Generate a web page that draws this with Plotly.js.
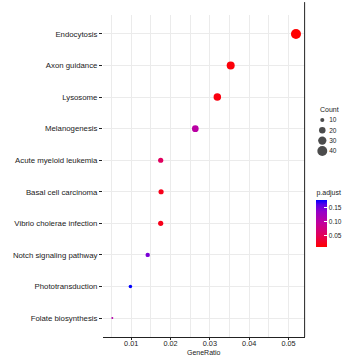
<!DOCTYPE html>
<html>
<head>
<meta charset="utf-8">
<script src="https://cdn.plot.ly/plotly-3.0.1.min.js"></script>
<style>html,body{margin:0;padding:0;background:#fff;}#chart{width:356px;height:356px;}</style>
</head>
<body>
<div id="chart"></div>
<script>
// ---- data (top to bottom) ----
var categories = ["Endocytosis", "Axon guidance", "Lysosome", "Melanogenesis",
  "Acute myeloid leukemia", "Basal cell carcinoma", "Vibrio cholerae infection",
  "Notch signaling pathway", "Phototransduction", "Folate biosynthesis"];
var geneRatio = [0.0519, 0.0353, 0.0319, 0.0263, 0.0175, 0.0176, 0.0175, 0.0142, 0.0098, 0.0052];
var counts = [41, 28, 25, 21, 14, 14, 14, 11, 8, 4];
var pAdjust = [0.008, 0.012, 0.015, 0.100, 0.053, 0.020, 0.020, 0.145, 0.175, 0.105];
var sizeLegendCounts = [10, 20, 30, 40];
var xTickVals = [0.01, 0.02, 0.03, 0.04, 0.05];
var xTickText = ["0.01", "0.02", "0.03", "0.04", "0.05"];
var cbTickVals = [0.05, 0.10, 0.15];
var cbTickText = ["0.05", "0.10", "0.15"];

// area-style size scale (diameter in px)
function sz(c) { return 1.82 * Math.sqrt(c) - 1.64; }

var FONT = "Liberation Sans, Arial, sans-serif";
var TXT = "#1a1a1a";
var GRID = "#ebebeb";

var colorscale = [[0, "#ff0000"], [0.25, "#e2005a"], [0.5, "#c3009a"], [0.75, "#9600c8"], [0.9, "#5a00e6"], [1, "#0000ff"]];

var main = {
  type: "scatter", mode: "markers",
  x: geneRatio, y: categories,
  xaxis: "x", yaxis: "y",
  showlegend: false, hoverinfo: "x+y",
  marker: {
    size: counts.map(sz), sizemode: "diameter",
    color: pAdjust, colorscale: colorscale, cmin: 0.008, cmax: 0.175,
    line: {width: 0}, opacity: 1,
    colorbar: {
      x: 0.893, xanchor: "left", xpad: 0,
      y: 0.372, yanchor: "middle", ypad: 0,
      len: 60, lenmode: "pixels", thickness: 11, thicknessmode: "pixels",
      outlinewidth: 0,
      tickmode: "array", tickvals: cbTickVals, ticktext: cbTickText,
      ticks: "inside", ticklen: 3, tickcolor: "#ffffff", tickwidth: 1,
      tickfont: {family: FONT, size: 6.5, color: TXT},
      title: {text: "p.adjust", side: "top", font: {family: FONT, size: 7, color: TXT}}
    }
  }
};

var sizeLegend = {
  type: "scatter", mode: "markers",
  x: sizeLegendCounts.map(function(){ return 1; }), y: sizeLegendCounts,
  xaxis: "x2", yaxis: "y2", showlegend: false, hoverinfo: "skip",
  marker: {size: sizeLegendCounts.map(sz), color: "#000000", line: {width: 0}}
};

var layout = {
  width: 356, height: 356,
  margin: {l: 103, r: 10, t: 14.7, b: 19.3, pad: 0},
  paper_bgcolor: "#ffffff", plot_bgcolor: "#ffffff",
  font: {family: FONT, size: 7, color: TXT},
  xaxis: {
    domain: [0, 0.8436], range: [0.00283, 0.0541], autorange: false,
    tickmode: "array", tickvals: xTickVals, ticktext: xTickText,
    showgrid: true, gridcolor: GRID, gridwidth: 1,
    minor: {tickmode: "array", tickvals: [0.005, 0.015, 0.025, 0.035, 0.045], showgrid: true, gridcolor: GRID, gridwidth: 1},
    zeroline: false, showline: true, linecolor: "#222", linewidth: 1,
    ticks: "outside", ticklen: 2, tickcolor: "#222",
    ticklabelstandoff: -3,
    tickfont: {family: FONT, size: 7.3, color: TXT},
    automargin: false, fixedrange: true
  },
  yaxis: {
    type: "category", categoryorder: "array", categoryarray: categories,
    range: [9.6, -0.6], autorange: false,
    showgrid: true, gridcolor: GRID, gridwidth: 1,
    zeroline: false, showline: false,
    ticks: "outside", ticklen: 3, tickcolor: "#222",
    tickfont: {family: FONT, size: 7.8, color: TXT},
    automargin: false, fixedrange: true
  },
  xaxis2: {
    domain: [0.893, 0.942], anchor: "y2", range: [0, 2],
    visible: false, fixedrange: true
  },
  yaxis2: {
    domain: [0.5618, 0.690], anchor: "x2", range: [45, 5], side: "right",
    tickmode: "array", tickvals: sizeLegendCounts, ticktext: sizeLegendCounts.map(String),
    showgrid: false, zeroline: false, showline: false, ticks: "",
    tickfont: {family: FONT, size: 6.5, color: TXT}, fixedrange: true
  },
  shapes: [
    {type: "line", xref: "paper", yref: "paper", x0: 0.8436, x1: 0.8436, y0: 0, y1: 1.04,
     line: {color: "#222", width: 1}}
  ],
  annotations: [
    {text: "Count", xref: "paper", yref: "paper", x: 0.90, y: 0.705, xanchor: "left", yanchor: "middle",
     showarrow: false, font: {family: FONT, size: 7, color: TXT}},
    {text: "GeneRatio", xref: "paper", yref: "paper", x: 0.4218, y: -0.049, xanchor: "center", yanchor: "middle",
     showarrow: false, font: {family: FONT, size: 7, color: TXT}}
  ]
};

Plotly.newPlot("chart", [main, sizeLegend], layout, {displayModeBar: false, staticPlot: true});
</script>
</body>
</html>
